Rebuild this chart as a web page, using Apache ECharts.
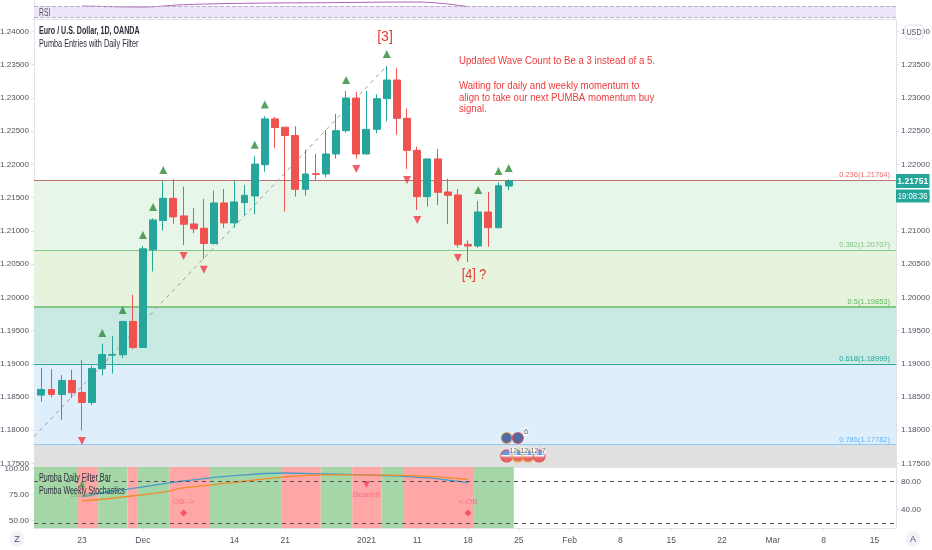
<!DOCTYPE html>
<html><head><meta charset="utf-8">
<style>html,body{margin:0;padding:0;background:#fff}#c{width:932px;height:550px}</style>
<script src="https://cdn.jsdelivr.net/npm/echarts@6/dist/echarts.min.js"></script>
</head><body><div id="c"></div>
<script>
const FONT = '"Liberation Sans",sans-serif';
const dates = ['Nov 17','Nov 18','Nov 19','Nov 20','Nov 23','Nov 24','Nov 25','Nov 26','Nov 27','Nov 30','Dec 1','Dec 2','Dec 3','Dec 4','Dec 7','Dec 8','Dec 9','Dec 10','Dec 11','Dec 14','Dec 15','Dec 16','Dec 17','Dec 18','Dec 21','Dec 22','Dec 23','Dec 24','Dec 28','Dec 29','Dec 30','Dec 31','Jan 4','Jan 5','Jan 6','Jan 7','Jan 8','Jan 11','Jan 12','Jan 13','Jan 14','Jan 15','Jan 18','Jan 19','Jan 20','Jan 21','Jan 22'];
const opens  = [1.18529,1.18614,1.18539,1.18749,1.18569,1.18418,1.18925,1.19130,1.19135,1.19637,1.19246,1.20715,1.21155,1.21490,1.21225,1.21105,1.21040,1.20810,1.21420,1.21120,1.21425,1.21525,1.21995,1.22685,1.22560,1.22435,1.21625,1.21860,1.21856,1.22157,1.22508,1.22999,1.22157,1.22528,1.22989,1.23270,1.22693,1.22212,1.21515,1.22082,1.21585,1.21540,1.20797,1.20772,1.21284,1.21048,1.21675];
const closes = [1.18614,1.18539,1.18749,1.18564,1.18418,1.18930,1.19140,1.19140,1.19637,1.19246,1.20730,1.21165,1.21490,1.21210,1.21100,1.21030,1.20810,1.21420,1.21120,1.21435,1.21535,1.22005,1.22685,1.22555,1.22435,1.21625,1.21856,1.21850,1.22157,1.22508,1.22999,1.22157,1.22528,1.22989,1.23270,1.22693,1.22212,1.21515,1.22082,1.21580,1.21535,1.20792,1.20772,1.21284,1.21048,1.21680,1.21751];
const lows   = [1.18428,1.18493,1.18157,1.18483,1.17997,1.18378,1.18824,1.18855,1.19085,1.19221,1.19240,1.20389,1.21005,1.21105,1.20785,1.20965,1.20575,1.20790,1.21045,1.21050,1.21240,1.21250,1.21890,1.22245,1.21290,1.21515,1.21530,1.21766,1.21806,1.22087,1.22478,1.22087,1.22150,1.22468,1.22648,1.22443,1.21931,1.21314,1.21365,1.21390,1.21104,1.20747,1.20531,1.20747,1.20762,1.21038,1.21615];
const highs  = [1.18940,1.18920,1.18829,1.18910,1.19060,1.18970,1.19301,1.19421,1.19640,1.20038,1.20775,1.21190,1.21750,1.21780,1.21665,1.21340,1.21480,1.21605,1.21630,1.21750,1.21690,1.22125,1.22725,1.22715,1.22560,1.22575,1.22217,1.22157,1.22518,1.22759,1.23105,1.23090,1.23105,1.23055,1.23481,1.23451,1.22844,1.22267,1.22090,1.22232,1.21786,1.21630,1.20857,1.21449,1.21585,1.21730,1.21780];
const upIdx = [6,8,10,11,12,21,22,30,34,43,45,46];
const upPrices = [1.19463,1.19809,1.20938,1.21359,1.21916,1.22297,1.22902,1.23270,1.23661,1.21615,1.21901,1.21946];
const downIdx = [4,14,16,31,36,37,41];
const downPrices = [1.17838,1.20622,1.20416,1.21931,1.21766,1.21164,1.20592];
const fibLevels = [0.236,0.382,0.5,0.618,0.786];
const fibPrices = [1.21764,1.20707,1.19853,1.18999,1.17782];
const fibLineColors = ['#c0706a','#86c98a','#66bb6a','#2ba598','#90caf9'];
const fibLabelColors = ['#ef6a6a','#7cc480','#5cb860','#26a69a','#64b5f6'];
const fibFills = ['#e8f5e9','#e6f3dd','#c9e9e3','#deeefb','#e0e0e0'];
const trendIdx = [-0.72,34];
const trendPrices = [1.17903,1.23481];
const priceTicks = [1.175,1.18,1.185,1.19,1.195,1.2,1.205,1.21,1.215,1.22,1.225,1.23,1.235,1.24];
const tickIdx = [4,10,19,24,32,37,42,47,52,57,62,67,72,77,82];
const tickLabels = ['23','Dec','14','21','2021','11','18','25','Feb','8','15','22','Mar','8','15'];
const filterEdges = [-0.72,3.6,5.6,8.5,9.5,12.6,16.6,23.6,27.5,30.6,33.5,35.6,42.6,46.5];
const filterStates = ['g','r','g','r','g','r','g','r','g','r','g','r','g'];
const stochLeftTicks = [50,75,100];
const stochRightTicks = [40,80];
const stochLevels = [80,20];
const blueIdx = [4,7,8,12,14,19,24,28,32,35,38,42];
const blueVals = [58,66.5,68,77,81,88.7,92.6,91.2,89.7,88.3,85.4,78.6];
const orangeIdx = [4,8,12,14,19,24,28,32,37,42];
const orangeVals = [52,57.8,65,70.9,79,87,90,89.7,88.3,83.2];
const rsiIdx = [4,10,14,20,28,37,42];
const rsiVals = [70,66.6,74.4,79.2,81.3,83.7,67.6];
const rsiBand = [70,30];
const euIdx = [45.8,46.9];
const euPrice = 1.17883;
const euColors = ['#f2a93b','#e5484d'];
const usIdx = [45.8,46.9,47.9,49];
const usPrice = 1.17613;
const usColors = ['#e5484d','#f2a93b','#f2a93b','#e5484d'];
const usCounts = ['12','12','12','7'];
const noteLines = ['Updated Wave Count to Be a 3 instead of a 5.','Waiting for daily and weekly momentum to','align to take our next PUMBA momentum buy','signal.'];
const noteTops = [55,80,92,103];
const lastPrice = '1.21751';
const countdown = '19:08:36';

const UP='#26a69a', DN='#ef5350', GRID='#e0e3eb', TXT='#50535e';
const xMin=-0.72, xMax=84.12;
const candles = dates.map((d,i)=>[i,opens[i],closes[i],lows[i],highs[i]]);
const baseX = {type:'value',min:xMin,max:xMax,splitLine:{show:false},axisTick:{show:false},axisLabel:{show:false},axisLine:{show:true,onZero:false,lineStyle:{color:GRID}}};
const mkY = (grid,pos,min,max,ticks,dec)=>({type:'value',splitLine:{show:false},gridIndex:grid,position:pos,min,max,
  axisLine:{show:true,onZero:false,lineStyle:{color:GRID}},
  axisTick:{show:ticks.length>0,length:3,lineStyle:{color:GRID},customValues:ticks},
  axisLabel:{show:ticks.length>0,customValues:ticks,margin:5,color:TXT,fontFamily:FONT,fontSize:8,showMinLabel:true,showMaxLabel:true,hideOverlap:false,formatter:v=>v.toFixed(dec)}});

const fibAreas = fibPrices.map((p,i)=>[{yAxis:p,itemStyle:{color:fibFills[i]}},{yAxis:i<fibPrices.length-1?fibPrices[i+1]:1.17447}]);
const fibLines = fibPrices.map((p,i)=>({yAxis:p,lineStyle:{color:fibLineColors[i],width:i===2?1.5:1,type:'solid'},
  label:{show:true,position:'insideEndTop',distance:[6,1],color:fibLabelColors[i],fontFamily:FONT,fontSize:7.5,formatter:fibLevels[i]+'('+p.toFixed(5)+')'}}));
const filterAreas = filterStates.map((s,i)=>[{xAxis:filterEdges[i],itemStyle:{color:s==='g'?'#a5d6a7':'#ffa6a6'}},{xAxis:filterEdges[i+1]}]);
const usGrad = {type:'linear',x:0,y:0,x2:0,y2:1,colorStops:[{offset:0,color:'#4a86d8'},{offset:.45,color:'#4a86d8'},{offset:.46,color:'#ffffff'},{offset:.65,color:'#e5484d'},{offset:1,color:'#e5484d'}]};
const txt = (x,y,text,font,fill,scaleX,align)=>({type:'text',x,y,scaleX:scaleX||1,z:21,style:{text,font:font+' '+FONT,fill,align:align||'left'}});

const option = {
  animation:false,
  textStyle:{fontFamily:FONT},
  grid:[
    {left:34,right:36,top:0,height:19,outerBoundsMode:'none'},
    {left:34,right:36,top:20,height:447,outerBoundsMode:'none'},
    {left:34,right:36,top:467,height:61,outerBoundsMode:'none'}
  ],
  xAxis:[
    Object.assign({},baseX,{gridIndex:0}),
    Object.assign({},baseX,{gridIndex:1}),
    Object.assign({},baseX,{gridIndex:2,
      axisTick:{show:true,length:3,lineStyle:{color:GRID},customValues:tickIdx},
      axisLabel:{show:true,customValues:tickIdx,margin:8,color:TXT,fontFamily:FONT,fontSize:8.5,hideOverlap:false,formatter:v=>tickLabels[tickIdx.indexOf(Math.round(v))]||''}})
  ],
  yAxis:[
    mkY(0,'left',25.6,90.5,[],0),
    mkY(1,'left',1.17447,1.24173,priceTicks,5),
    mkY(1,'right',1.17447,1.24173,priceTicks,5),
    mkY(2,'left',42.8,101.4,stochLeftTicks,2),
    mkY(2,'right',12.9,101.3,stochRightTicks,2)
  ],
  series:[
    {type:'line',name:'RSI',xAxisIndex:0,yAxisIndex:0,data:rsiIdx.map((x,i)=>[x,rsiVals[i]]),smooth:.4,symbol:'none',z:3,clip:false,
      lineStyle:{color:'#b060b8',width:1},
      markArea:{silent:true,data:[[{yAxis:rsiBand[0],itemStyle:{color:'#efe5fb'}},{yAxis:rsiBand[1]}]]},
      markLine:{silent:true,symbol:'none',label:{show:false},lineStyle:{color:'#b9b4c4',type:'dashed',width:1},data:rsiBand.map(v=>({yAxis:v}))}},
    {type:'line',name:'Trend',xAxisIndex:1,yAxisIndex:1,data:trendIdx.map((x,i)=>[x,trendPrices[i]]),symbol:'none',z:2,
      lineStyle:{color:'#9a9ea4',width:1,type:[4,4]},
      markArea:{silent:true,z:1,data:fibAreas}},
    {type:'line',name:'Fib',xAxisIndex:1,yAxisIndex:1,data:[],symbol:'none',z:2,
      markLine:{silent:true,symbol:'none',precision:5,z:2,data:fibLines}},
    {type:'candlestick',name:'EURUSD',xAxisIndex:1,yAxisIndex:1,data:candles,encode:{x:0,y:[1,2,3,4]},barWidth:7.4,z:3,
      itemStyle:{color:UP,color0:DN,borderColor:UP,borderColor0:DN,borderColorDoji:DN,borderWidth:1}},
    {type:'scatter',name:'Up',xAxisIndex:1,yAxisIndex:1,data:upIdx.map((x,i)=>[x,upPrices[i]]),symbol:'triangle',symbolSize:[8,8],z:4,itemStyle:{color:'#2e8b3a'}},
    {type:'scatter',name:'Down',xAxisIndex:1,yAxisIndex:1,data:downIdx.map((x,i)=>[x,downPrices[i]]),symbol:'triangle',symbolRotate:180,symbolSize:[8,8],z:4,itemStyle:{color:'#f23645'}},
    {type:'scatter',name:'EU',xAxisIndex:1,yAxisIndex:1,clip:false,data:euIdx.map((x,i)=>({value:[x,euPrice],itemStyle:{borderColor:euColors[i]},label:{show:i===1,formatter:'6'}})),symbol:'circle',symbolSize:11,z:6,
      itemStyle:{color:'#2c4a8c',borderWidth:1.2},label:{position:'right',distance:0,offset:[0,-6],color:'#444',fontFamily:FONT,fontSize:8,backgroundColor:'#fff'}},
    {type:'scatter',name:'US',xAxisIndex:1,yAxisIndex:1,clip:false,data:usIdx.map((x,i)=>({value:[x,usPrice],itemStyle:{borderColor:usColors[i]},label:{show:true,formatter:usCounts[i]}})),symbol:'circle',symbolSize:12,z:6,
      itemStyle:{color:usGrad,borderWidth:1.2},label:{position:'right',distance:-4,offset:[0,-5],color:'#444',fontFamily:FONT,fontSize:7,backgroundColor:'#fff'}},
    {type:'line',name:'Filter',xAxisIndex:2,yAxisIndex:3,data:[],symbol:'none',z:1,markArea:{silent:true,z:1,data:filterAreas}},
    {type:'line',name:'Levels',xAxisIndex:2,yAxisIndex:4,data:[],symbol:'none',z:2,
      markLine:{silent:true,symbol:'none',label:{show:false},lineStyle:{color:'#555',type:[4,4],width:1},data:stochLevels.map(v=>({yAxis:v}))}},
    {type:'line',name:'Fast',xAxisIndex:2,yAxisIndex:4,data:blueIdx.map((x,i)=>[x,blueVals[i]]),smooth:.4,symbol:'none',z:3,lineStyle:{color:'#4a9bcb',width:1.3}},
    {type:'line',name:'Slow',xAxisIndex:2,yAxisIndex:4,data:orangeIdx.map((x,i)=>[x,orangeVals[i]]),smooth:.4,symbol:'none',z:3,lineStyle:{color:'#f28c28',width:1.3}},
    {type:'scatter',name:'Signals',xAxisIndex:2,yAxisIndex:4,symbolSize:7,z:4,
      data:[
        {value:[4,76.7],symbol:'triangle',itemStyle:{color:'#43a047'},label:{show:true,position:'bottom',distance:3,formatter:'Bullish',color:'#6fae70'}},
        {value:[14,34.6],symbol:'diamond',itemStyle:{color:'#f0405a'},label:{show:true,position:'top',distance:4,formatter:'OB-->',color:'#f4647c'}},
        {value:[32,76],symbol:'triangle',symbolRotate:180,itemStyle:{color:'#f0405a'},label:{show:true,position:'bottom',distance:3,formatter:'Bearish',color:'#f4647c'}},
        {value:[42,34.6],symbol:'diamond',itemStyle:{color:'#f0405a'},label:{show:true,position:'top',distance:4,formatter:'<-OB',color:'#f4647c'}}
      ],
      label:{fontFamily:FONT,fontSize:8}}
  ],
  graphic:[
    txt(39,8,'RSI','10px','#50535e',.68),
    txt(39,26.5,'Euro / U.S. Dollar, 1D, OANDA','bold 10px','#2a2e39',.71),
    txt(39,39.5,'Pumba Entries with Daily Filter','10px','#2a2e39',.73),
    txt(39,473.5,'Pumba Daily Filter Bar','10px','#2a2e39',.72),
    txt(39,486.5,'Pumba Weekly Stochastics','10px','#2a2e39',.71),
    txt(385,30,'[3]','14px','#e53935',1,'center'),
    txt(474,268,'[4] ?','14px','#e53935',.9,'center'),
    ...noteLines.map((t,i)=>txt(459,noteTops[i],t,'11px','#ef3b3b',.875)),
    {type:'rect',z:20,shape:{x:896,y:174,width:33.5,height:14},style:{fill:'#26a69a'}},
    txt(912.7,177,lastPrice,'bold 9px','#fff',.95,'center'),
    {type:'rect',z:20,shape:{x:896,y:189.5,width:33.5,height:13},style:{fill:'#26a69a'}},
    txt(912.7,192,countdown,'9px','#fff',.85,'center'),
    {type:'rect',z:20,shape:{x:905,y:25,width:18,height:14,r:3},style:{fill:'#fff',stroke:GRID}},
    txt(914,28,'USD','9px','#50535e',.8,'center'),
    {type:'circle',z:20,shape:{cx:17,cy:539,r:7.5},style:{fill:'#f0f3fa'}},
    txt(17,535,'Z','9px','#50535e',1,'center'),
    {type:'circle',z:20,shape:{cx:913,cy:539,r:7.5},style:{fill:'#f0f3fa'}},
    txt(913,535,'A','9px','#50535e',1,'center')
  ]
};
const chart = echarts.init(document.getElementById('c'),null,{renderer:'canvas'});
chart.setOption(option);
</script></body></html>
